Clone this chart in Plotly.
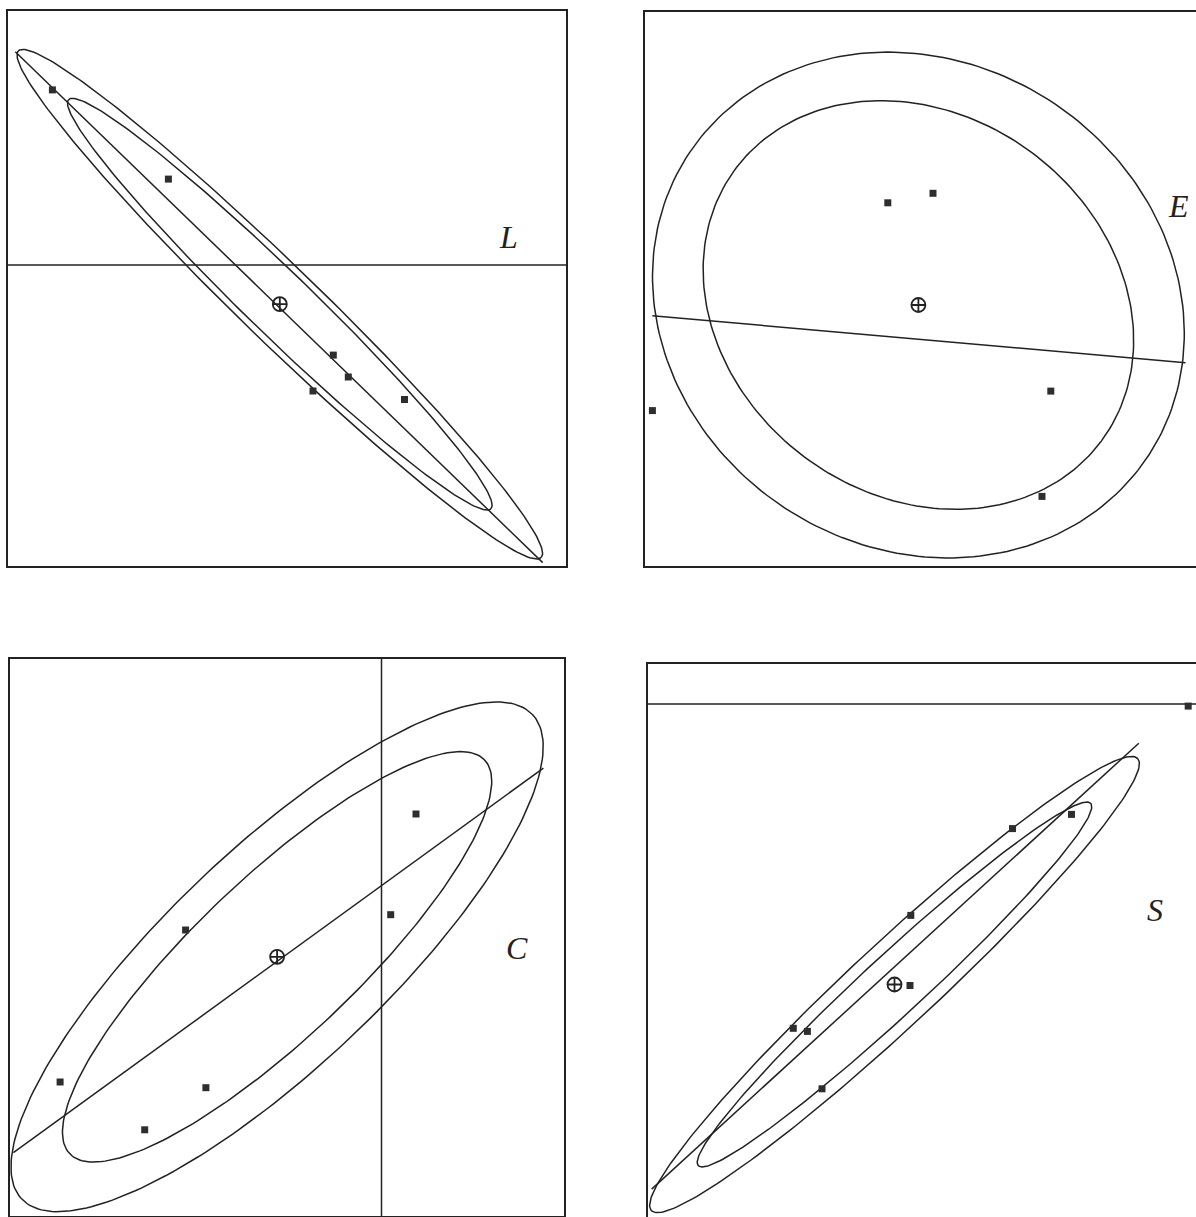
import numpy as np
import plotly.graph_objects as go

# ---------------- data (panel units) ----------------
# Panel L
L_pts_x = [4.44, 16.04, 32.53, 34.03, 30.50, 39.65]
L_pts_y = [47.61, 38.69, 21.09, 18.90, 17.50, 16.65]
L_centre = [27.18, 26.18]
L_line_x = [0.73, 53.47]
L_line_y = [51.43, 0.34]
L_ref_y = 30.1
L_outer = [36.4, 3.85, -44.1]   # semi-major, semi-minor, angle (deg)
L_inner = [29.4, 3.2, -44.1]

# Panel E
E_pts_x = [24.28, 28.80, 40.58, 39.70, 0.74]
E_pts_y = [36.32, 37.27, 17.49, 6.96, 15.54]
E_centre = [27.34, 26.10]
E_line_x = [0.74, 54.05]
E_line_y = [25.03, 20.32]
E_outer = [27.5, 24.3, -33.0]
E_inner = [22.8, 19.0, -36.6]

# Panel C
C_pts_x = [40.60, 38.07, 17.56, 5.01, 19.59, 13.47]
C_pts_y = [40.20, 30.13, 28.60, 13.40, 12.83, 8.62]
C_centre = [26.71, 25.92]
C_line_x = [0.34, 53.34]
C_line_y = [6.33, 44.79]
C_ref_x = 37.15
C_outer = [35.2, 10.9, 43.5]
C_inner = [28.6, 8.0, 43.5]

# Panel S
S_pts_x = [54.02, 26.20, 36.45, 42.35, 26.28, 14.53, 15.94, 17.40]
S_pts_y = [51.09, 23.15, 38.84, 40.26, 30.16, 18.87, 18.56, 12.82]
S_centre = [24.65, 23.25]
S_line_x = [0.37, 49.08]
S_line_y = [2.79, 47.38]
S_ref_y = 51.3
S_outer = [33.2, 4.2, 42.9]
S_inner = [26.7, 3.0, 42.7]

labels = ["L", "E", "C", "S"]

# ---------------- layout geometry ----------------
FW, FH = 1196, 1217
# pixel boxes: left, right, top, bottom ; axis ranges ; visible frame sides
panels = {
    "L": dict(box=(8, 566, 11, 566), xr=(0, 55.8), yr=(0, 55.5), lab=(50.0, 32.9),
              xmirror=True, xside="bottom", ymirror=True),
    "E": dict(box=(645, 1196, 12, 566), xr=(0, 55.1), yr=(0, 55.4), lab=(53.3, 36.0),
              xmirror=True, xside="bottom", ymirror=False),
    "C": dict(box=(10, 564, 659, 1216), xr=(0, 55.4), yr=(0, 55.7), lab=(50.7, 26.8),
              xmirror=True, xside="bottom", ymirror=True),
    "S": dict(box=(648, 1196, 664, 1217), xr=(0, 54.8), yr=(0, 55.3), lab=(50.7, 30.7),
              xmirror=False, xside="top", ymirror=False),
}

INK = "#222222"
LW = 1.5


def ellipse(c, p, n=240):
    a, b, ang = p
    t = np.linspace(0, 2 * np.pi, n)
    r = np.radians(ang)
    x = c[0] + a * np.cos(t) * np.cos(r) - b * np.sin(t) * np.sin(r)
    y = c[1] + a * np.cos(t) * np.sin(r) + b * np.sin(t) * np.cos(r)
    return x, y


fig = go.Figure()


def line(xs, ys, k):
    fig.add_trace(go.Scatter(x=list(xs), y=list(ys), mode="lines",
                             line=dict(color=INK, width=LW),
                             xaxis="x" + k, yaxis="y" + k, hoverinfo="skip"))


def pts(xs, ys, k):
    fig.add_trace(go.Scatter(x=xs, y=ys, mode="markers",
                             marker=dict(symbol="square", size=7, color="#2e2e2e",
                                         line=dict(width=0)),
                             xaxis="x" + k, yaxis="y" + k, cliponaxis=False))


def centre(c, k):
    fig.add_trace(go.Scatter(x=[c[0]], y=[c[1]], mode="markers",
                             marker=dict(symbol="circle-cross-open", size=14,
                                         color=INK, line=dict(width=1.8, color=INK)),
                             xaxis="x" + k, yaxis="y" + k))


data = {
    "L": (L_pts_x, L_pts_y, L_centre, L_line_x, L_line_y, L_outer, L_inner),
    "E": (E_pts_x, E_pts_y, E_centre, E_line_x, E_line_y, E_outer, E_inner),
    "C": (C_pts_x, C_pts_y, C_centre, C_line_x, C_line_y, C_outer, C_inner),
    "S": (S_pts_x, S_pts_y, S_centre, S_line_x, S_line_y, S_outer, S_inner),
}

layout = dict(width=FW, height=FH, margin=dict(l=0, r=0, t=0, b=0),
              paper_bgcolor="white", plot_bgcolor="white", showlegend=False,
              annotations=[])

for i, name in enumerate(labels):
    k = "" if i == 0 else str(i + 1)
    p = panels[name]
    px, py, c, lx, ly, outer, inner = data[name]
    xr, yr = p["xr"], p["yr"]

    # reference lines
    if name == "L":
        line([xr[0], xr[1]], [L_ref_y, L_ref_y], k)
    if name == "C":
        line([C_ref_x, C_ref_x], [yr[0], yr[1]], k)
    if name == "S":
        line([xr[0], xr[1]], [S_ref_y, S_ref_y], k)

    ex, ey = ellipse(c, outer)
    line(ex, ey, k)
    ex, ey = ellipse(c, inner)
    line(ex, ey, k)
    line(lx, ly, k)
    pts(px, py, k)
    centre(c, k)

    l, r, t, b = p["box"]
    ax = dict(domain=[l / FW, r / FW], range=list(xr), showgrid=False, zeroline=False,
              showticklabels=False, ticks="", showline=True, mirror=p["xmirror"],
              side=p["xside"], linecolor=INK, linewidth=1.5, fixedrange=True)
    ay = dict(domain=[1 - b / FH, 1 - t / FH], range=list(yr), showgrid=False, zeroline=False,
              showticklabels=False, ticks="", showline=True, mirror=p["ymirror"],
              linecolor=INK, linewidth=1.5, fixedrange=True)
    if k:
        ax["anchor"] = "y" + k
        ay["anchor"] = "x" + k
    else:
        ax["anchor"] = "y"
        ay["anchor"] = "x"
    layout["xaxis" + k] = ax
    layout["yaxis" + k] = ay
    layout["annotations"].append(dict(
        x=p["lab"][0], y=p["lab"][1], xref="x" + k, yref="y" + k,
        text="<i>" + name + "</i>", showarrow=False,
        font=dict(family="Liberation Serif, DejaVu Serif, serif", size=32, color="#222222")))

fig.update_layout(**layout)
fig.write_html("out.html", config={"displayModeBar": False},
               post_script="document.body.style.margin='0';document.body.style.padding='0';")
